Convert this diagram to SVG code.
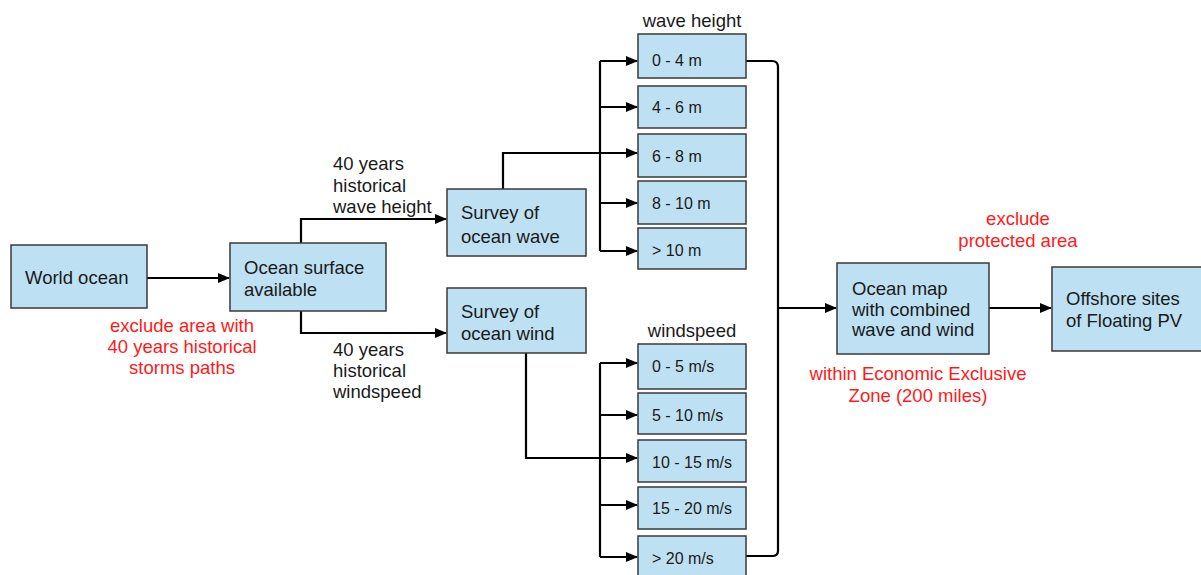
<svg xmlns="http://www.w3.org/2000/svg" width="1201" height="575" viewBox="0 0 1201 575">
<style>
.box{fill:#bde1f3;stroke:#3a3a3a;stroke-width:1.5}
.t{font-family:"Liberation Sans",Arial,sans-serif;font-size:18.5px;fill:#1a1a1a}
.s{font-family:"Liberation Sans",Arial,sans-serif;font-size:16px;fill:#1a1a1a}
.r{font-family:"Liberation Sans",Arial,sans-serif;font-size:18.5px;fill:#ff1a1a}
.c{fill:none;stroke:#000;stroke-width:2.2}
.a{fill:none;stroke:#000;stroke-width:2.2;marker-end:url(#ah)}
</style>
<defs>
<marker id="ah" markerWidth="12" markerHeight="10" refX="11" refY="5" orient="auto" markerUnits="userSpaceOnUse">
<path d="M0,0 L12,5 L0,10 Z" fill="#000"/>
</marker>
</defs>
<rect width="1201" height="575" fill="#fff"/>
<g id="connectors">
<path class="a" d="M147,278 H229"/>
<path class="a" d="M301,243 V219 H446"/>
<path class="a" d="M301,311 V333 H446"/>
<path class="a" d="M503,189 V153 H637"/>
<path class="c" d="M600,61 V251"/>
<path class="a" d="M600,61 H637"/>
<path class="a" d="M600,107 H637"/>
<path class="a" d="M600,203 H637"/>
<path class="a" d="M600,251 H637"/>
<path class="a" d="M526,353 V458 H637"/>
<path class="c" d="M600,363 V557"/>
<path class="a" d="M600,363 H637"/>
<path class="a" d="M600,415 H637"/>
<path class="a" d="M600,505 H637"/>
<path class="a" d="M600,557 H637"/>
<path class="c" d="M746,61 H772 Q778,61 778,67 V551 Q778,556 772,556 H746"/>
<path class="a" d="M778,308 H836"/>
<path class="a" d="M989,308 H1051"/>
</g>
<g id="n-world">
<rect class="box" x="11" y="245" width="136" height="63"/>
<text class="t" x="25" y="284">World ocean</text>
</g>
<g id="n-surface">
<rect class="box" x="230" y="243" width="156" height="68"/>
<text class="t" x="244" y="274">Ocean surface</text>
<text class="t" x="244" y="296">available</text>
</g>
<g id="n-wave">
<rect class="box" x="447" y="189" width="139" height="67"/>
<text class="t" x="461" y="219">Survey of</text>
<text class="t" x="461" y="243">ocean wave</text>
</g>
<g id="n-wind">
<rect class="box" x="447" y="288" width="139" height="65"/>
<text class="t" x="461" y="318">Survey of</text>
<text class="t" x="461" y="340">ocean wind</text>
</g>
<g id="labels">
<text class="t" x="333" y="170">40 years</text>
<text class="t" x="333" y="192">historical</text>
<text class="t" x="333" y="213">wave height</text>
<text class="t" x="333" y="356">40 years</text>
<text class="t" x="333" y="377">historical</text>
<text class="t" x="333" y="398">windspeed</text>
<text class="r" x="182" y="332" text-anchor="middle">exclude area with</text>
<text class="r" x="182" y="353" text-anchor="middle">40 years historical</text>
<text class="r" x="182" y="374" text-anchor="middle">storms paths</text>
<text class="t" x="692" y="27" text-anchor="middle">wave height</text>
<text class="t" x="692" y="337" text-anchor="middle">windspeed</text>
<text class="r" x="1018" y="225" text-anchor="middle">exclude</text>
<text class="r" x="1018" y="247" text-anchor="middle">protected area</text>
<text class="r" x="918" y="380" text-anchor="middle">within Economic Exclusive</text>
<text class="r" x="918" y="402" text-anchor="middle">Zone (200 miles)</text>
</g>
<g id="n-w1"><rect class="box" x="638" y="34" width="108" height="44"/><text class="s" x="652" y="66">0 - 4 m</text></g>
<g id="n-w2"><rect class="box" x="638" y="86" width="108" height="42"/><text class="s" x="652" y="113">4 - 6 m</text></g>
<g id="n-w3"><rect class="box" x="638" y="134" width="108" height="43"/><text class="s" x="652" y="162">6 - 8 m</text></g>
<g id="n-w4"><rect class="box" x="638" y="181" width="108" height="43"/><text class="s" x="652" y="209">8 - 10 m</text></g>
<g id="n-w5"><rect class="box" x="638" y="228" width="108" height="41"/><text class="s" x="652" y="256">&gt; 10 m</text></g>
<g id="n-s1"><rect class="box" x="638" y="344" width="108" height="45"/><text class="s" x="652" y="372">0 - 5 m/s</text></g>
<g id="n-s2"><rect class="box" x="638" y="393" width="108" height="41"/><text class="s" x="652" y="421">5 - 10 m/s</text></g>
<g id="n-s3"><rect class="box" x="638" y="440" width="108" height="42"/><text class="s" x="652" y="468">10 - 15 m/s</text></g>
<g id="n-s4"><rect class="box" x="638" y="487" width="108" height="42"/><text class="s" x="652" y="514">15 - 20 m/s</text></g>
<g id="n-s5"><rect class="box" x="638" y="536" width="108" height="44"/><text class="s" x="652" y="564">&gt; 20 m/s</text></g>
<g id="n-map">
<rect class="box" x="837" y="263" width="152" height="91"/>
<text class="t" x="852" y="295">Ocean map</text>
<text class="t" x="852" y="316">with combined</text>
<text class="t" x="852" y="336">wave and wind</text>
</g>
<g id="n-sites">
<rect class="box" x="1052" y="267" width="152" height="84"/>
<text class="t" x="1066" y="305">Offshore sites</text>
<text class="t" x="1066" y="327">of Floating PV</text>
</g>
</svg>
